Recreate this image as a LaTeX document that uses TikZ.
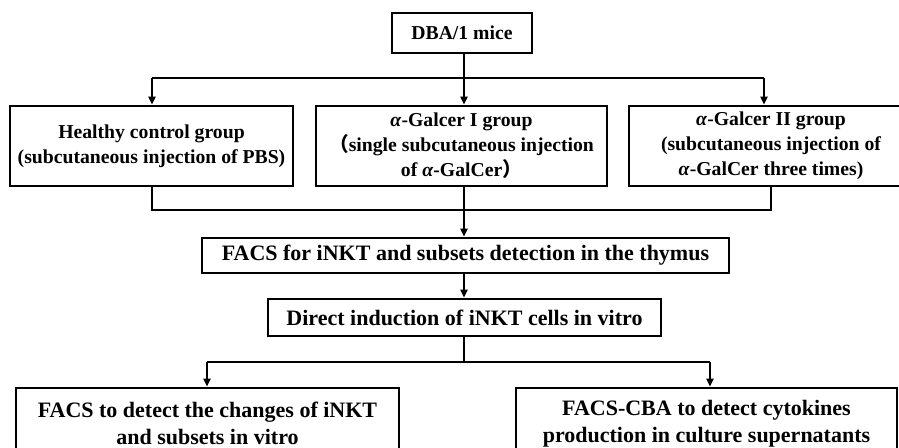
\documentclass[tikz,border=0pt]{standalone}
\usepackage{fontspec}
\setmainfont{Liberation Serif}
\newfontfamily\cjk{Noto Sans CJK SC}
\usetikzlibrary{arrows.meta}
\newcommand{\al}{\textit{α}}
\begin{document}
\begin{tikzpicture}[x=1pt,y=-1pt,
  box/.style={draw, line width=2.8pt, inner sep=0pt, align=center},
  small/.style={font=\bfseries\fontsize{19.7}{25}\selectfont},
  big/.style={font=\bfseries\fontsize{22}{26.7}\selectfont},
  conn/.style={line width=2.6pt},
  arr/.style={line width=2pt, -{Triangle[width=7pt,length=8pt]}}]
\useasboundingbox (0,0) rectangle (899,447);
\fill[white] (0,0) rectangle (899,447);
% nodes
\node[box, small, minimum width=140pt, minimum height=40pt] (dba) at (462,33) {DBA/1 mice};
\node[box, small, minimum width=283pt, minimum height=80pt] (g1) at (151.5,146)
  {Healthy control group\\(subcutaneous injection of PBS)};
\node[box, small, minimum width=291pt, minimum height=80pt] (g2) at (461.5,146)
  {\al-Galcer I group\\{\cjk （}single subcutaneous injection\\of \al-GalCer{\cjk ）}};
\node[box, small, minimum width=284pt, minimum height=80pt] (g3) at (771,146)
  {\al-Galcer II group\\(subcutaneous injection of\\\al-GalCer three times)};
\node[box, big, minimum width=527pt, minimum height=35pt] (facs) at (465.5,255.5)
  {FACS for iNKT and subsets detection in the thymus};
\node[box, big, minimum width=393pt, minimum height=37pt] (direct) at (464.5,317.5)
  {Direct induction of iNKT cells in vitro};
\node[box, big, minimum width=383pt, minimum height=71pt] (out1) at (207.5,423.5)
  {FACS to detect the changes of iNKT\\and subsets in vitro};
\node[box, big, minimum width=381pt, minimum height=71pt] (out2) at (706.5,423.5)
  {FACS-CBA to detect cytokines\\production in culture supernatants};
% junction coordinates
\coordinate (j1) at (464,78);
\coordinate (t1) at (152,78);
\coordinate (t3) at (764,78);
\coordinate (b1) at (152,210);
\coordinate (b3) at (771,210);
\coordinate (s1) at (207,362);
\coordinate (s2) at (710,362);
% connectors
\draw[conn] (dba.south -| j1) -- (j1);
\draw[conn] (t1) -- (t3);
\draw[arr] (t1) -- (t1 |- g1.north);
\draw[arr] (j1) -- (j1 |- g2.north);
\draw[arr] (t3) -- (t3 |- g3.north);
\draw[conn] (b1 |- g1.south) -- (b1) -- (b3) -- (b3 |- g3.south);
\draw[conn] (g2.south -| j1) -- (j1 |- b1);
\draw[arr] (j1 |- b1) -- (j1 |- facs.north);
\draw[arr] (facs.south -| j1) -- (j1 |- direct.north);
\draw[conn] (direct.south -| j1) -- (j1 |- s1);
\draw[conn] (s1) -- (s2);
\draw[arr] (s1) -- (s1 |- out1.north);
\draw[arr] (s2) -- (s2 |- out2.north);
\end{tikzpicture}
\end{document}
